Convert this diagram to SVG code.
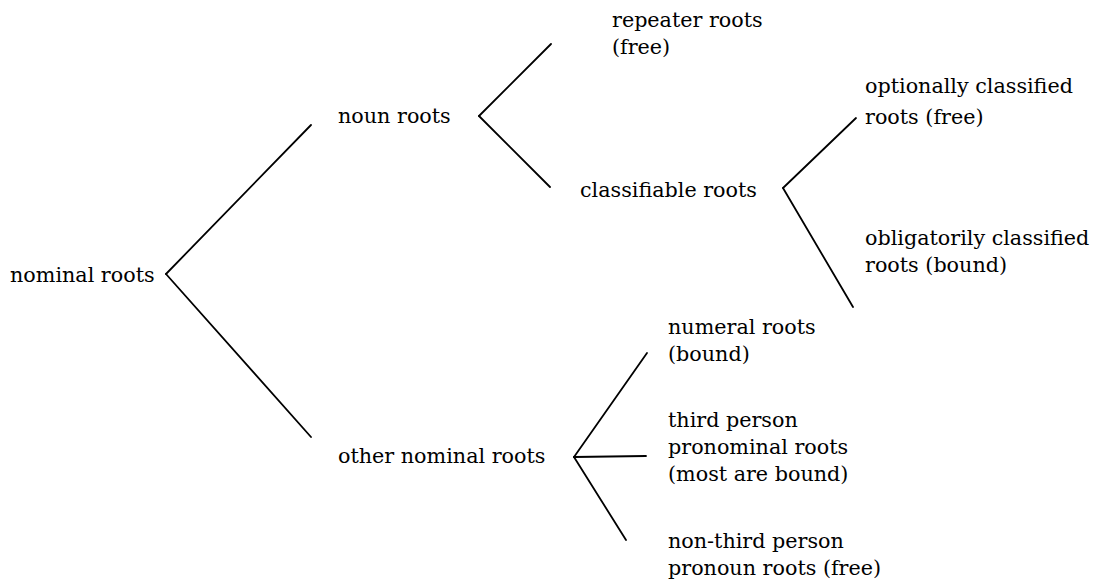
<svg xmlns="http://www.w3.org/2000/svg" width="1098" height="585" viewBox="0 0 1098 585">
<style>
.c line{stroke:#000;stroke-width:1.8;stroke-linecap:round}
.t{font-family:'DejaVu Serif',serif;font-size:20.7px;fill:#000}
</style>
<rect width="1098" height="585" fill="#fff"/>
<g class="c" id="connectors">
<line x1="166" y1="274" x2="311" y2="125"/>
<line x1="166" y1="274" x2="311" y2="437"/>
<line x1="479" y1="116" x2="551" y2="44"/>
<line x1="479" y1="116" x2="550" y2="187"/>
<line x1="783" y1="188" x2="856" y2="118"/>
<line x1="783" y1="188" x2="853" y2="307"/>
<line x1="574" y1="457" x2="647" y2="353"/>
<line x1="574" y1="457" x2="646" y2="456"/>
<line x1="574" y1="457" x2="626" y2="540"/>
</g>
<g class="t">
<g id="n-nominal"><text x="10" y="282">nominal roots</text></g>
<g id="n-noun"><text x="338" y="123">noun roots</text></g>
<g id="n-repeater"><text x="612" y="27">repeater roots</text><text x="612" y="54">(free)</text></g>
<g id="n-classifiable"><text x="580" y="197">classifiable roots</text></g>
<g id="n-optional"><text x="865" y="93">optionally classified</text><text x="865" y="124">roots (free)</text></g>
<g id="n-obligatory"><text x="865" y="245">obligatorily classified</text><text x="865" y="272">roots (bound)</text></g>
<g id="n-other"><text x="338" y="463">other nominal roots</text></g>
<g id="n-numeral"><text x="668" y="334">numeral roots</text><text x="668" y="361">(bound)</text></g>
<g id="n-third"><text x="668" y="427">third person</text><text x="668" y="454">pronominal roots</text><text x="668" y="481">(most are bound)</text></g>
<g id="n-nonthird"><text x="668" y="548">non-third person</text><text x="668" y="575">pronoun roots (free)</text></g>
</g>
</svg>
